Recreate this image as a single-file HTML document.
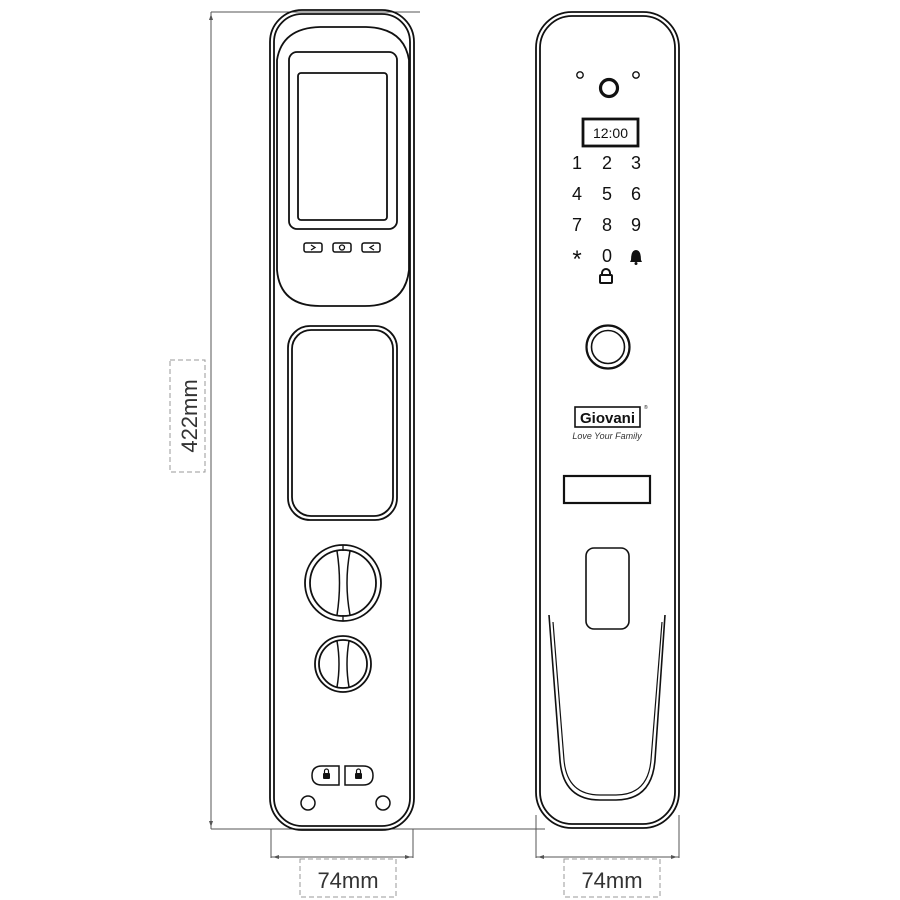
<!DOCTYPE html>
<html><head><meta charset="utf-8"><style>
html,body{margin:0;padding:0;background:#fff;width:900px;height:900px;overflow:hidden}
svg{display:block}
text{font-family:"Liberation Sans",sans-serif}
</style></head><body>
<svg width="900" height="900" viewBox="0 0 900 900" xmlns="http://www.w3.org/2000/svg">
<g fill="none" stroke="#555" stroke-width="1">
<line x1="211" y1="12" x2="420" y2="12"/>
<line x1="211" y1="12" x2="211" y2="829"/>
<line x1="211" y1="829" x2="545" y2="829"/>
<line x1="271" y1="829" x2="271" y2="858"/>
<line x1="413" y1="829" x2="413" y2="858"/>
<line x1="271" y1="857" x2="413" y2="857"/>
<line x1="536" y1="815" x2="536" y2="858"/>
<line x1="679" y1="815" x2="679" y2="858"/>
<line x1="536" y1="857" x2="679" y2="857"/>
</g>
<g fill="#555">
<path d="M211 14 l-2 6 h4 z"/><path d="M211 827 l-2 -6 h4 z"/>
<path d="M273 857 l6 -2 v4 z"/><path d="M411 857 l-6 -2 v4 z"/>
<path d="M538 857 l6 -2 v4 z"/><path d="M677 857 l-6 -2 v4 z"/>
</g>
<g fill="none" stroke="#999" stroke-width="1" stroke-dasharray="5,3">
<rect x="170" y="360" width="35" height="112"/>
<rect x="300" y="859" width="96" height="38"/>
<rect x="564" y="859" width="96" height="38"/>
</g>
<text x="0" y="0" font-size="22" fill="#333" text-anchor="middle" transform="translate(197,416) rotate(-90)">422mm</text>
<text x="348" y="888" font-size="22" fill="#333" text-anchor="middle">74mm</text>
<text x="612" y="888" font-size="22" fill="#333" text-anchor="middle">74mm</text>

<!-- left device -->
<g fill="none" stroke="#111" stroke-width="1.8">
<rect x="270" y="10" width="144" height="820" rx="32"/>
<rect x="274" y="14" width="136" height="812" rx="28"/>
<path d="M277 60 Q282 28 320 27 L366 27 Q404 28 409 60 L409 270 Q405 306 365 306 L320 306 Q280 306 277 270 Z"/>
<rect x="289" y="52" width="108" height="177" rx="8"/>
<rect x="298" y="73" width="89" height="147" rx="3"/>
<rect x="304" y="243" width="18" height="9" rx="2" stroke-width="1.5"/>
<rect x="333" y="243" width="18" height="9" rx="2" stroke-width="1.5"/>
<rect x="362" y="243" width="18" height="9" rx="2" stroke-width="1.5"/>
<path d="M311 245 l4 2.5 l-4 2.5" stroke-width="1.3"/>
<circle cx="342" cy="247.5" r="2.5" stroke-width="1.3"/>
<path d="M374 245 l-4 2.5 l4 2.5" stroke-width="1.3"/>
<rect x="288" y="326" width="109" height="194" rx="22"/>
<rect x="292" y="330" width="101" height="186" rx="19"/>
<circle cx="343" cy="583" r="38"/>
<circle cx="343" cy="583" r="33"/>
<path d="M337 551 Q342 583 337 615 M350 551 Q344 583 350 615" stroke-width="1.5"/>
<line x1="343" y1="545" x2="343" y2="551" stroke-width="1.3"/>
<line x1="343" y1="615" x2="343" y2="621" stroke-width="1.3"/>
<circle cx="343" cy="664" r="28"/>
<circle cx="343" cy="664" r="24"/>
<path d="M337 641 Q341 664 337 687 M349 641 Q345 664 349 687" stroke-width="1.5"/>
<path d="M339 766 L322 766 Q312 766 312 775.5 Q312 785 322 785 L339 785 Z" stroke-width="1.5"/>
<path d="M345 766 L363 766 Q373 766 373 775.5 Q373 785 363 785 L345 785 Z" stroke-width="1.5"/>
<circle cx="308" cy="803" r="7" stroke-width="1.5"/>
<circle cx="383" cy="803" r="7" stroke-width="1.5"/>
</g>
<g fill="#111">
<rect x="323" y="773" width="7" height="6" rx="1"/>
<rect x="355" y="773" width="7" height="6" rx="1"/>
</g>
<path d="M324.5 773 v-2 a2 2 0 0 1 4 0 v2 M356.5 773 v-2 a2 2 0 0 1 4 0 v2" fill="none" stroke="#111" stroke-width="1.2"/>

<!-- right device -->
<g fill="none" stroke="#111" stroke-width="1.8">
<rect x="536" y="12" width="143" height="816" rx="36"/>
<rect x="540" y="16" width="135" height="808" rx="32"/>
<circle cx="580" cy="75" r="3.2" stroke-width="1.4"/>
<circle cx="636" cy="75" r="3.2" stroke-width="1.4"/>
<circle cx="609" cy="88" r="8.5" stroke-width="3.2"/>
<rect x="583" y="119" width="55" height="27" stroke-width="2.8"/>
<circle cx="608" cy="347" r="21.5" stroke-width="2.2"/>
<circle cx="608" cy="347" r="16.5" stroke-width="1.6"/>
<rect x="564" y="476" width="86" height="27" stroke-width="2.2"/>
<rect x="586" y="548" width="43" height="81" rx="8" stroke-width="1.6"/>
<path d="M549 615 L560 760 Q563 800 600 800 L616 800 Q652 800 655 760 L665 615" stroke-width="1.6"/>
<path d="M553 622 L564 760 Q567 795 600 795 L616 795 Q648 795 651 760 L662 622" stroke-width="1.2"/>
<rect x="575" y="407" width="65" height="20" stroke-width="1.6"/>
</g>
<text x="610.5" y="138" font-size="14" fill="#111" text-anchor="middle">12:00</text>
<g font-size="18" fill="#111" text-anchor="middle">
<text x="577" y="169">1</text><text x="607" y="169">2</text><text x="636" y="169">3</text>
<text x="577" y="200">4</text><text x="607" y="200">5</text><text x="636" y="200">6</text>
<text x="577" y="231">7</text><text x="607" y="231">8</text><text x="636" y="231">9</text>
<text x="607" y="262">0</text>
</g>
<text x="577" y="267" font-size="24" fill="#111" text-anchor="middle">*</text>
<path d="M631 260 Q631 250 636 250 Q641 250 641 260 L642 262 L630 262 Z" fill="#111"/>
<circle cx="636" cy="263.5" r="1.5" fill="#111"/>
<path d="M602 276 v-3 a4 4 0 0 1 8 0 v3" fill="none" stroke="#111" stroke-width="2"/>
<rect x="600" y="275" width="12" height="8" rx="1" fill="none" stroke="#111" stroke-width="2"/>
<text x="607.5" y="423" font-size="15" font-weight="bold" fill="#111" text-anchor="middle">Giovani</text>
<text x="644" y="409" font-size="5" fill="#111">®</text>
<text x="607" y="439" font-size="9" font-style="italic" fill="#333" text-anchor="middle" font-family="Liberation Serif,serif">Love Your Family</text>
</svg>
</body></html>
